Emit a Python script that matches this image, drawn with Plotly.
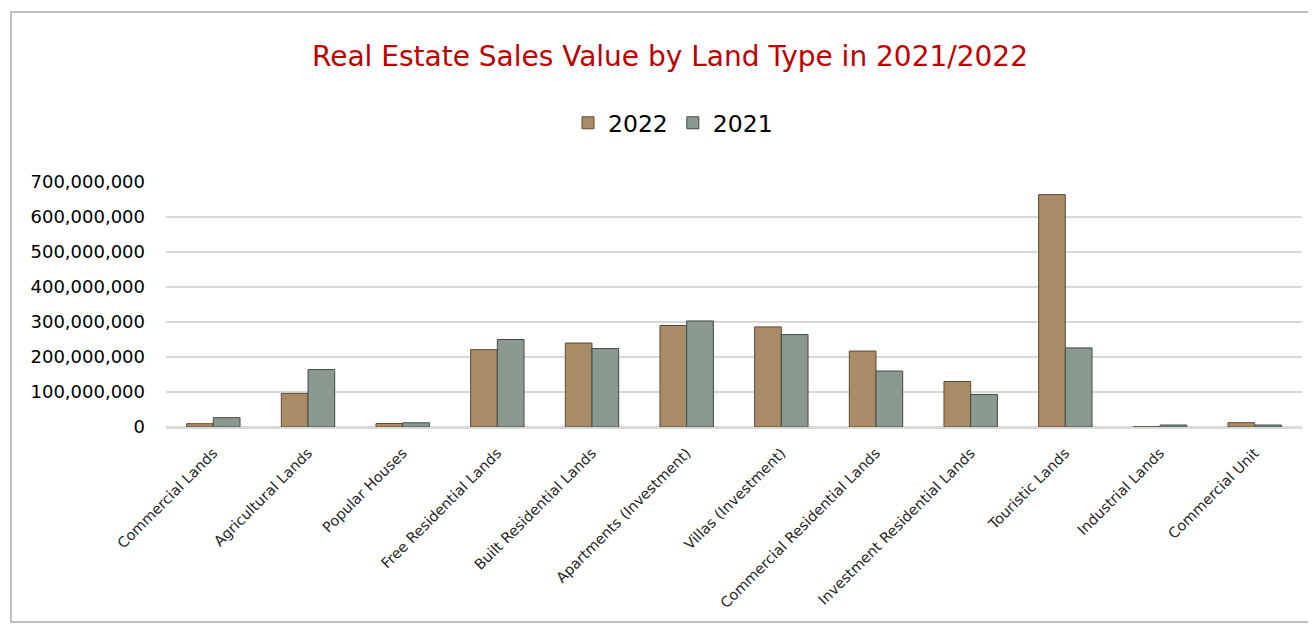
import plotly.graph_objects as go

categories = ["Commercial Lands", "Agricultural Lands", "Popular Houses", "Free Residential Lands",
              "Built Residential Lands", "Apartments (Investment)", "Villas (Investment)",
              "Commercial Residential Lands", "Investment Residential Lands", "Touristic Lands",
              "Industrial Lands", "Commercial Unit"]
values_2022 = [9.5e6, 96e6, 10e6, 221e6, 240e6, 290e6, 286e6, 217e6, 130e6, 664e6, 0.5e6, 12.4e6]
values_2021 = [26.7e6, 164e6, 12e6, 250e6, 224e6, 303e6, 264e6, 160e6, 93e6, 226e6, 5.7e6, 5.7e6]
y_ticks = [0, 100e6, 200e6, 300e6, 400e6, 500e6, 600e6, 700e6]
y_tick_labels = ["0", "100,000,000", "200,000,000", "300,000,000", "400,000,000",
                 "500,000,000", "600,000,000", "700,000,000"]

OFF = 8  # page body margin
W, H = 1316 - OFF, 626 - OFF
# plot area in screen pixels
SX0, SX1, SY0, SY1 = 166, 1302, 182, 427
L = SX0 - OFF
R = W - (SX1 - OFF)
T = SY0 - OFF
B = H - (SY1 - OFF)

fig = go.Figure()
fig.add_trace(go.Bar(name="2022", x=categories, y=values_2022,
                     marker=dict(color="#A88B67", line=dict(color="#5E4B36", width=1))))
fig.add_trace(go.Bar(name="2021", x=categories, y=values_2021,
                     marker=dict(color="#8A9A90", line=dict(color="#3F4A44", width=1))))

pw = W - L - R
ph = H - T - B
def px_x(p):
    return (p - OFF - L) / pw
def px_y(p):
    return (H - B - (p - OFF)) / ph

fig.add_shape(type="rect", xref="paper", yref="paper",
              x0=px_x(11), x1=px_x(1310), y0=px_y(622), y1=px_y(12),
              line=dict(color="#BFBFBF", width=2), fillcolor="rgba(0,0,0,0)", layer="below")

fig.update_layout(
    width=W, height=H,
    margin=dict(l=L, r=R, t=T, b=B),
    paper_bgcolor="white", plot_bgcolor="white",
    barmode="group", bargap=0.436, bargroupgap=0,
    font=dict(family="DejaVu Sans", color="#404040"),
    title=dict(text="Real Estate Sales Value by Land Type in 2021/2022",
               x=(670 - OFF) / W, xref="container", xanchor="center",
               y=1 - (56 - OFF) / H, yref="container", yanchor="middle",
               font=dict(size=28, color="#C00000", family="DejaVu Sans")),
    legend=dict(orientation="h", x=px_x(673), xanchor="center",
                y=px_y(123), yanchor="middle",
                font=dict(size=23.5, color="#000000"), itemwidth=30, traceorder="normal"),
    showlegend=True,
)
fig.update_yaxes(range=[0, 7e8], tickvals=y_ticks, ticktext=y_tick_labels,
                 showgrid=True, gridcolor="#D9D9D9", gridwidth=2,
                 zeroline=True, zerolinecolor="#D9D9D9", zerolinewidth=2,
                 tickfont=dict(size=18, color="#000000"), ticklabelstandoff=20,
                 showline=False, fixedrange=True)
fig.update_xaxes(tickangle=-45, tickfont=dict(size=14.5, color="#262626"),
                 ticklabelstandoff=10,
                 showline=True, linecolor="#D9D9D9", linewidth=2, ticks="")

fig.write_html("out.html")
